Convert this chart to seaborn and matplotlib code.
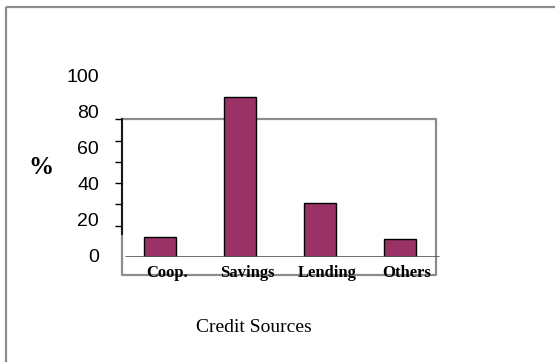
import matplotlib
matplotlib.use("Agg")
import matplotlib.pyplot as plt
import matplotlib.transforms as mtransforms
from matplotlib.lines import Line2D
import seaborn as sns
import pandas as pd

categories = ["Coop.", "Savings", "Lending", "Others"]
values = [11, 89, 30, 10]
y_ticks = [0, 20, 40, 60, 80, 100]
x_title = "Credit Sources"
y_title = "%"

sns.set_style("white")

W, H = 555, 362
fig = plt.figure(figsize=(W / 100, H / 100), dpi=100)


def fx(x):
    return x / W


def fy(y):
    return 1 - y / H


# axes: x 120..440 px, y data 0 at 257 px, 100 at 77 px
ax = fig.add_axes([fx(120), fy(257), 320 / W, 180 / H])
df = pd.DataFrame({"cat": categories, "val": values})
sns.barplot(data=df, x="cat", y="val", ax=ax, color="#993366", saturation=1,
            edgecolor="black", linewidth=1.0, width=0.4)
ax.set_xlim(-0.5, 3.5)
ax.set_ylim(0, 100)
ax.set_yticks(y_ticks)
ax.set_yticklabels([str(v) for v in y_ticks])
ax.set_xlabel("")
ax.set_ylabel("")
for s in ax.spines.values():
    s.set_visible(False)
ax.patch.set_alpha(0)
ax.tick_params(axis="y", length=0, pad=15)
ax.tick_params(axis="x", length=0, pad=5.5)
for t in ax.get_yticklabels():
    t.set_fontfamily("Liberation Sans")
    t.set_fontsize(14)
    t.set_color("black")
    t.set_transform(t.get_transform() + mtransforms.ScaledTranslation(0, 2 / 100, fig.dpi_scale_trans))
for t in ax.get_xticklabels():
    t.set_fontfamily("Liberation Serif")
    t.set_fontweight("bold")
    t.set_fontsize(12)
    t.set_color("black")
    t.set_transform(t.get_transform() + mtransforms.ScaledTranslation(7 / 100, 0, fig.dpi_scale_trans))

# baseline
ax.axhline(0, xmin=6 / 320, xmax=319 / 320, color="#555555", lw=1.2, zorder=1)

gray = "#8c8c8c"
def fline(xs, ys, color=gray, lw=1.6, z=0):
    fig.add_artist(Line2D([fx(x) for x in xs], [fy(y) for y in ys], color=color,
                          lw=lw, zorder=z, solid_capstyle="butt"))

# outer frame
fline([6, 6], [7, 362])
fline([6, 555], [7, 7])
# gray plot box
fline([122, 436, 436, 122, 122], [119, 119, 275, 275, 119])
# black axis line with ticks
fline([122, 122], [118, 235], color="black", lw=1.2, z=1)
for yy in [119, 141, 162, 183, 204, 226]:
    fline([115, 122], [yy, yy], color="black", lw=1.0, z=1)

fig.text(fx(253.5), fy(327), x_title, ha="center", va="center",
         fontfamily="Liberation Serif", fontsize=14, color="black")
fig.text(fx(41), fy(167), y_title, ha="center", va="center",
         fontfamily="Liberation Serif", fontweight="bold", fontsize=18, color="black")

fig.savefig("out.png", dpi=100)
